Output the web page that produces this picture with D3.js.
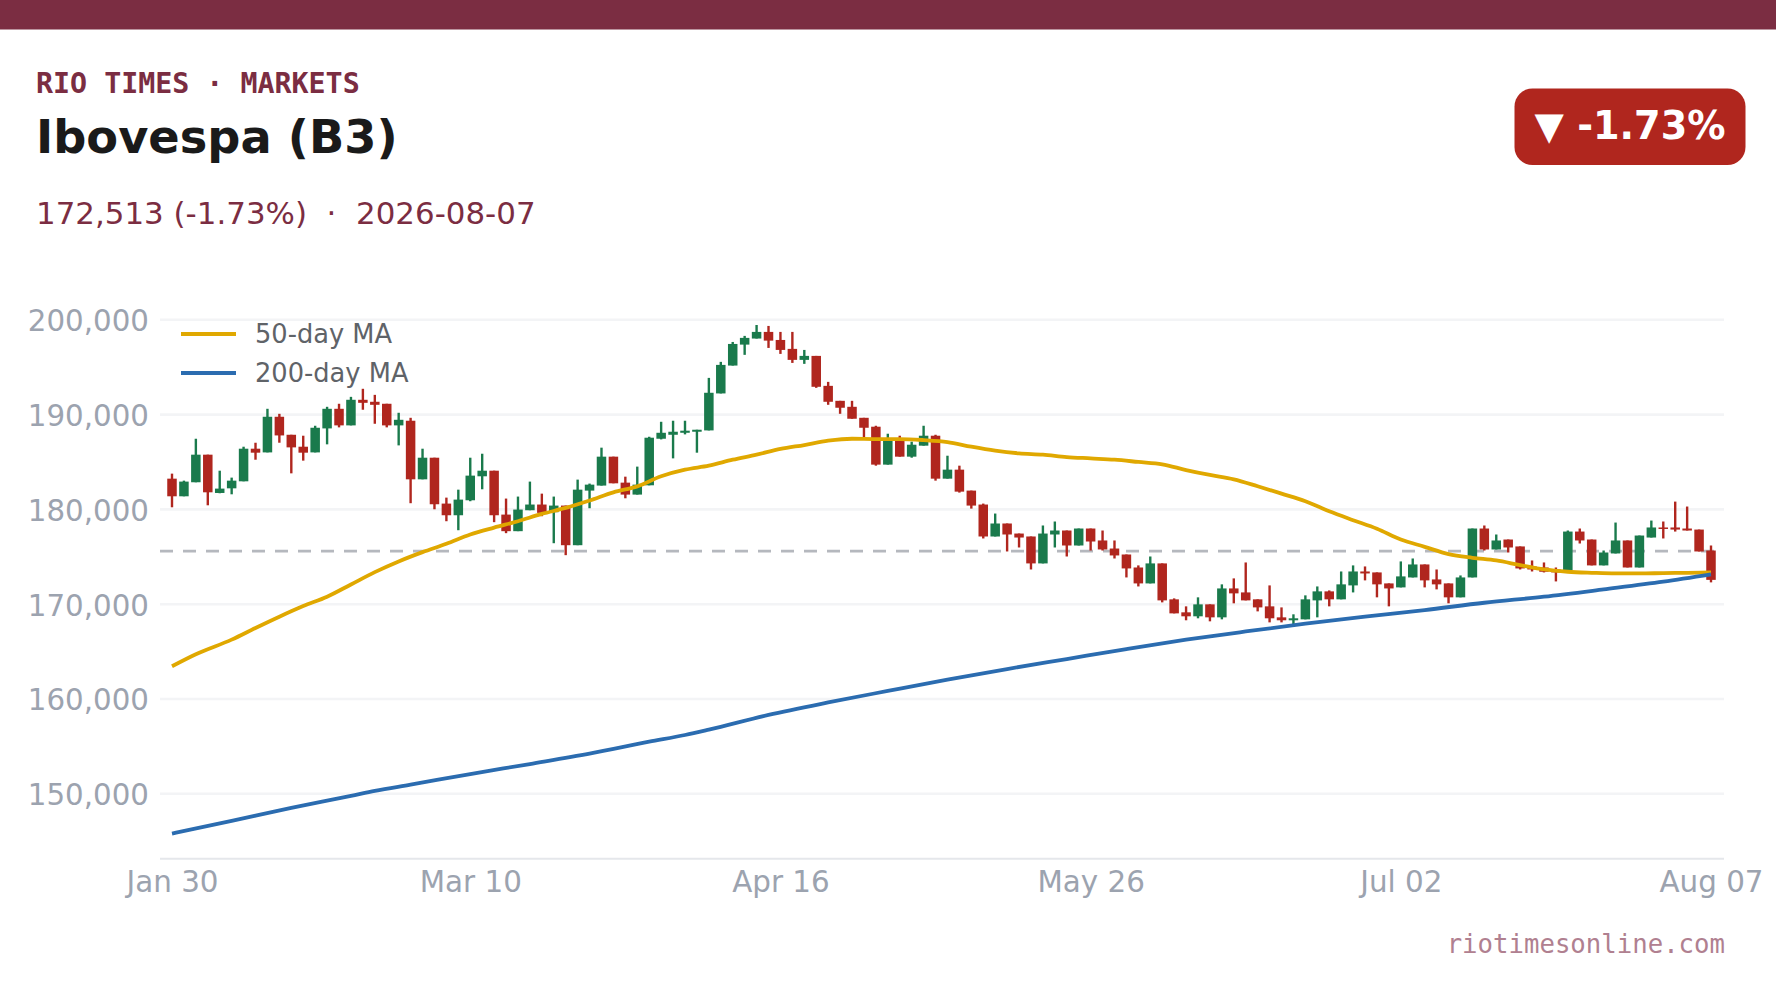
<!DOCTYPE html>
<html>
<head>
<meta charset="utf-8">
<script src="https://cdn.jsdelivr.net/npm/d3@7"></script>
<style>
html,body{margin:0;padding:0;background:#fff;overflow:hidden}
svg{display:block}
text{font-family:"DejaVu Sans",sans-serif}
</style>
</head>
<body>
<svg id="c" width="1776" height="999"></svg>
<script>
const dates=["01-30",
"02-02","02-03","02-04","02-05","02-06","02-09","02-10","02-11","02-12","02-13","02-18","02-19","02-20","02-23","02-24","02-25","02-26","02-27",
"03-02","03-03","03-04","03-05","03-06","03-09","03-10","03-11","03-12","03-13","03-16","03-17","03-18","03-19","03-20","03-23","03-24","03-25","03-26","03-27","03-30","03-31",
"04-01","04-02","04-06","04-07","04-08","04-09","04-10","04-13","04-14","04-15","04-16","04-17","04-20","04-22","04-23","04-24","04-27","04-28","04-29","04-30",
"05-04","05-05","05-06","05-07","05-08","05-11","05-12","05-13","05-14","05-15","05-18","05-19","05-20","05-21","05-22","05-25","05-26","05-27","05-28","05-29",
"06-01","06-02","06-03","06-05","06-08","06-09","06-10","06-11","06-12","06-15","06-16","06-17","06-18","06-19","06-22","06-23","06-24","06-25","06-26","06-29","06-30",
"07-01","07-02","07-03","07-06","07-07","07-08","07-09","07-10","07-13","07-14","07-15","07-16","07-17","07-20","07-21","07-22","07-23","07-24","07-27","07-28","07-29","07-30","07-31",
"08-03","08-04","08-05","08-06","08-07"];
const open=[183190,181330,182810,185720,181680,182170,182910,186350,185960,189720,
187820,186560,185960,188490,190560,188810,191510,191300,191090,188810,
189300,183120,185400,180560,179330,180910,183440,184030,179400,177650,
179860,180460,179650,180350,176170,181930,182460,185510,182770,181510,
182490,187400,187820,188030,188140,188280,192180,195120,197330,197970,
198670,197820,196880,195720,196140,192980,191400,190770,189610,188670,
184670,187470,185510,186670,187720,183190,184140,181930,180460,177090,
178460,177400,177090,174250,177300,177720,176140,177930,176670,175820,
175190,173820,172140,174250,170460,169090,168670,169930,168560,171610,
171190,170460,169720,168560,168250,168350,170350,171300,170460,171930,
173400,173300,172140,171720,172770,174140,172560,172140,170670,172770,
177930,175720,176770,176040,173930,173820,173610,173510,177610,176770,
174040,175300,176670,173820,176980,178040,178040,177930,177820,175610];
const high=[183720,182980,187400,185720,184030,183300,186560,186980,190560,190030,
187820,187720,188770,190770,191090,191820,192670,192030,191090,190140,
189610,186350,185400,181190,182030,185400,185820,184030,181090,181300,
182880,181610,181300,180350,183090,182670,186460,185510,183400,184460,
187610,189190,189300,189300,188350,193820,195510,197610,198250,199400,
199300,198670,198670,196770,196140,193400,191400,191400,189610,188770,
187930,187720,187090,188770,187820,185610,184560,181930,180560,179510,
178460,177400,177090,178250,178670,177720,177930,177930,177720,176670,
175190,174040,174980,174250,170560,169720,170670,169930,172040,172670,
174350,170460,171930,169610,168880,170880,171820,171400,173400,174040,
173930,173300,172140,174460,174770,174140,173610,172140,172980,177930,
178250,177300,176770,176040,174560,174350,173820,177720,177930,176770,
175610,178560,176670,177190,178770,178670,180770,180250,177820,176140];
const low=[180170,181330,182810,180380,181650,181540,182910,185190,185960,186980,
183750,185090,185960,186810,188600,188810,190460,188980,188600,186700,
180600,183120,179960,178700,177750,180810,182070,178600,177440,177650,
179860,179230,176380,175120,176170,180070,182460,182700,181120,181510,
182490,187330,185330,187860,185930,188280,192180,195120,196250,197970,
196980,196350,195400,195300,192770,190980,190030,189510,187470,184560,
184670,185510,185400,186670,182980,183190,181720,180030,176880,177090,
175510,175930,173610,174250,175930,174980,176140,175610,175610,174770,
172770,171820,172140,170140,168980,168250,168460,168140,168350,170040,
170350,169190,168030,168030,167820,168350,168560,169720,170460,171190,
172460,170670,169720,171720,172770,171720,171510,170040,170670,172770,
175610,175720,175400,173610,173400,173300,172350,173510,176350,174040,
174040,175300,173820,173820,176980,176880,177610,177720,175510,172250];
const close=[181330,182880,185720,181750,182140,182980,186350,185930,189720,187750,
186490,185930,188560,190560,188810,191510,191190,190980,188810,189400,
183120,185400,180490,179330,180980,183510,184030,179330,177650,179930,
180460,179580,180350,176170,182030,182560,185510,182700,181510,182560,
187510,188030,188140,188250,188350,192250,195190,197400,198040,198670,
197750,196770,195720,196140,192880,191300,190670,189510,188560,184670,
187400,185510,186770,187720,183190,184140,181820,180350,177090,178460,
177300,176980,174250,177400,177720,176140,177930,176560,175720,175090,
173720,172140,174250,170350,168980,168670,169930,168560,171610,171090,
170350,169610,168460,168250,168460,170460,171300,170460,172040,173400,
173190,172040,171610,172880,174140,172460,172040,170670,172770,177930,
175720,176670,175930,173720,173610,173370,173300,177610,176670,174040,
175400,176670,173820,177190,178040,177930,177820,177720,175510,172513];

const ma50Days=[0,2,5,7,9,11,13,15,17,19,21,23,25,27,29,31,33,35,37,39,41,43,45,47,49,51,53,55,57,59,61,63,65,67,69,71,73,75,77,79,81,83,85,87,89,91,93,95,97,99,101,103,105,107,109,111,113,115,117,119,121,123,125,127,129];
const ma50=[163400,164670,166210,167440,168630,169750,170740,172030,173330,174460,175440,176320,177300,178030,178700,179470,180100,180880,181750,182380,183440,184140,184560,185190,185720,186320,186740,187190,187400,187370,187370,187260,187050,186560,186140,185860,185720,185470,185330,185190,184950,184700,184100,183580,183120,182390,181610,180810,179750,178810,177900,176770,176000,175230,174840,174560,174070,173610,173370,173260,173190,173190,173230,173260,173300];
const ma200Days=[0,5,10,15,17,20,25,30,35,40,43,45,50,55,60,65,70,75,80,85,90,95,100,105,110,115,120,125,129];
const ma200=[145750,147090,148460,149720,150250,150910,152030,153090,154180,155440,156150,156720,158270,159580,160800,162000,163110,164160,165210,166200,167070,167890,168630,169330,170100,170740,171510,172320,173090];

const prevClose=175550;
const yTicks=[150000,160000,170000,180000,190000,200000];
const xTickDates=["01-30","03-10","04-16","05-26","07-02","08-07"];
const xTickLabels=["Jan 30","Mar 10","Apr 16","May 26","Jul 02","Aug 07"];
const legendItems=["50-day MA","200-day MA"];

const UP="#1A7A4C",DOWN="#B0261E",GOLD="#E0A800",BLUE="#2B6CB0",WINE="#7B2D42";
const left=160,right=1724,bottomY=858.7;
const svg=d3.select("#c");
const x=d3.scalePoint().domain(dates).range([172,1711]);
const y=d3.scaleLinear().domain([150000,200000]).range([793.3,319.3]);

svg.append("rect").attr("width",1776).attr("height",999).attr("fill","#fff");
svg.append("rect").attr("width",1776).attr("height",29.5).attr("fill",WINE);

// y axis + grid
const yAxis=svg.append("g").attr("transform",`translate(${left},0)`)
  .call(d3.axisLeft(y).tickValues(yTicks).tickFormat(d3.format(",")).tickSize(-(right-left)).tickPadding(11));
yAxis.select(".domain").remove();
yAxis.selectAll(".tick line").attr("stroke","#F3F4F6").attr("stroke-width",2.6);
yAxis.selectAll(".tick text").attr("fill","#9CA3AF").attr("font-size",29.3).attr("font-family",'"DejaVu Sans"').attr("y",2).attr("dy","0.32em");

// x axis
const xAxis=svg.append("g").attr("transform",`translate(0,${bottomY})`)
  .call(d3.axisBottom(x).tickValues(xTickDates).tickFormat((d,i)=>xTickLabels[i]).tickSize(0).tickPadding(14));
xAxis.select(".domain").attr("stroke","#E5E7EB").attr("stroke-width",2).attr("d",`M${left},0H${right}`);
xAxis.selectAll(".tick text").attr("fill","#9CA3AF").attr("font-size",29.4).attr("font-family",'"DejaVu Sans"').attr("y",33).attr("dy",0);

// reference line
svg.append("line").attr("x1",left).attr("x2",right).attr("y1",y(prevClose)).attr("y2",y(prevClose))
  .attr("stroke","#B5B8BE").attr("stroke-width",2.8).attr("stroke-dasharray","13 10");

// candles
const idx=d3.range(dates.length);
const col=i=>close[i]>=open[i]?UP:DOWN;
svg.append("g").selectAll("line").data(idx).join("line")
  .attr("x1",i=>x(dates[i])).attr("x2",i=>x(dates[i]))
  .attr("y1",i=>y(high[i])).attr("y2",i=>y(low[i]))
  .attr("stroke",col).attr("stroke-width",2.4);
const bw=9.5;
svg.append("g").selectAll("rect").data(idx).join("rect")
  .attr("x",i=>x(dates[i])-bw/2).attr("width",bw)
  .attr("y",i=>y(Math.max(open[i],close[i])))
  .attr("height",i=>Math.max(1.5,Math.abs(y(open[i])-y(close[i]))))
  .attr("fill",col);

// moving averages
const line=d3.line().x(d=>x(dates[d[0]])).y(d=>y(d[1])).curve(d3.curveMonotoneX);
svg.append("path").attr("d",line(ma50Days.map((d,i)=>[d,ma50[i]])))
  .attr("fill","none").attr("stroke",GOLD).attr("stroke-width",3.8).attr("stroke-linejoin","round");
svg.append("path").attr("d",line(ma200Days.map((d,i)=>[d,ma200[i]])))
  .attr("fill","none").attr("stroke",BLUE).attr("stroke-width",3.8).attr("stroke-linejoin","round");

// legend
const legendColors=[GOLD,BLUE],legendY=[334,373];
legendItems.forEach((t,i)=>{
  svg.append("line").attr("x1",181).attr("x2",236).attr("y1",legendY[i]).attr("y2",legendY[i])
    .attr("stroke",legendColors[i]).attr("stroke-width",4);
  svg.append("text").attr("x",255).attr("y",legendY[i]+9).attr("font-size",25.7).attr("fill","#5F6368").text(t);
});

// header text
svg.append("text").attr("x",36).attr("y",92.5).attr("font-size",28.3).attr("font-weight",700)
  .style("font-family",'"DejaVu Sans Mono"').attr("fill",WINE).text("RIO TIMES · MARKETS");
svg.append("text").attr("x",36).attr("y",153).attr("font-size",46.3).attr("font-weight",700)
  .attr("fill","#1A1A1A").text("Ibovespa (B3)");
svg.append("text").attr("x",36).attr("y",224).attr("font-size",30.9).attr("fill",WINE)
  .attr("xml:space","preserve").style("white-space","pre").text("172,513 (-1.73%)  ·  2026-08-07");

// badge
svg.append("rect").attr("x",1514.5).attr("y",88.5).attr("width",231).attr("height",76.5).attr("rx",18)
  .attr("fill",DOWN);
svg.append("text").attr("x",1630).attr("y",139).attr("text-anchor","middle").attr("font-size",38.2)
  .attr("font-weight",700).attr("fill","#fff").text("▼ -1.73%");

// footer
svg.append("text").attr("x",1725).attr("y",953).attr("text-anchor","end").attr("font-size",25.7)
  .style("font-family",'"DejaVu Sans Mono"').attr("fill","#B08090").text("riotimesonline.com");
</script>
</body>
</html>
